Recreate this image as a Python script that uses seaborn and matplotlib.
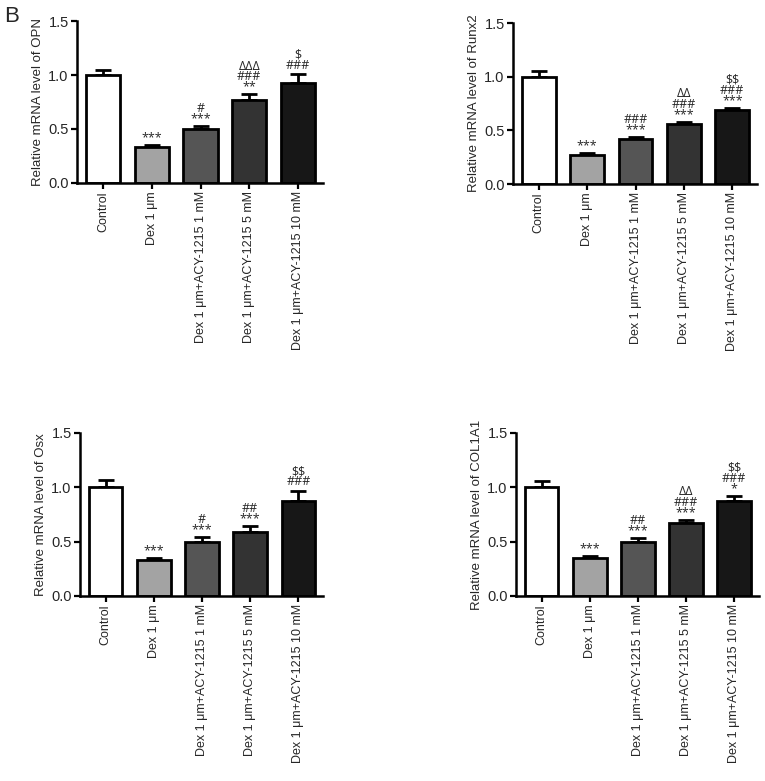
import matplotlib
matplotlib.use("Agg")
import matplotlib.pyplot as plt
import seaborn as sns
import pandas as pd
import numpy as np

sns.set_theme(style="ticks")
plt.rcParams['font.family'] = ['Liberation Sans', 'DejaVu Sans']

groups = ["Control", "Dex 1 μm", "Dex 1 μm+ACY-1215 1 mM",
          "Dex 1 μm+ACY-1215 5 mM", "Dex 1 μm+ACY-1215 10 mM"]
colors = ["#ffffff", "#a3a3a3", "#555555", "#333333", "#171717"]

opn_mean = [1.00, 0.33, 0.50, 0.77, 0.93]
opn_err = [0.05, 0.02, 0.03, 0.05, 0.08]
opn_ann = ["", "***", "#\n***", "ΔΔΔ\n###\n**", "$\n###"]

runx2_mean = [1.00, 0.27, 0.42, 0.56, 0.69]
runx2_err = [0.05, 0.015, 0.02, 0.02, 0.015]
runx2_ann = ["", "***", "###\n***", "ΔΔ\n###\n***", "$$\n###\n***"]

osx_mean = [1.00, 0.33, 0.50, 0.59, 0.87]
osx_err = [0.07, 0.02, 0.04, 0.05, 0.10]
osx_ann = ["", "***", "#\n***", "##\n***", "$$\n###"]

col_mean = [1.00, 0.35, 0.50, 0.67, 0.87]
col_err = [0.06, 0.02, 0.03, 0.03, 0.05]
col_ann = ["", "***", "##\n***", "ΔΔ\n###\n***", "$$\n###\n*"]

panels = [
    ("OPN", opn_mean, opn_err, opn_ann, [0.1007, 0.7657, 0.3216, 0.2074]),
    ("Runx2", runx2_mean, runx2_err, runx2_ann, [0.6706, 0.7644, 0.3190, 0.2061]),
    ("Osx", osx_mean, osx_err, osx_ann, [0.1046, 0.2369, 0.3176, 0.2087]),
    ("COL1A1", col_mean, col_err, col_ann, [0.6745, 0.2369, 0.3176, 0.2087]),
]

fig = plt.figure(figsize=(7.65, 7.81), dpi=100)

for gene, mean, err, ann, pos in panels:
    ax = fig.add_axes(pos)
    df = pd.DataFrame({"group": groups, "value": mean})
    sns.barplot(data=df, x="group", y="value", hue="group", palette=colors,
                order=groups, hue_order=groups, legend=False, width=0.7,
                edgecolor="black", linewidth=2, errorbar=None, ax=ax, zorder=2)
    x = np.arange(len(groups))
    ax.errorbar(x, mean, yerr=[np.zeros(len(err)), err], fmt="none",
                ecolor="black", elinewidth=2, capsize=6, capthick=2, zorder=1)
    for xi, m, e, a in zip(x, mean, err, ann):
        if not a:
            continue
        bottom_star = a.split("\n")[-1].startswith("*")
        ax.annotate(a, xy=(xi, m + e), xytext=(0, 0.6 if bottom_star else 1.5),
                    textcoords="offset points", ha="center", va="bottom",
                    multialignment="center", linespacing=0.74,
                    fontsize=9, annotation_clip=False, parse_math=False,
                    family=['Open Sans', 'DejaVu Sans'])
    ax.set_ylim(0, 1.5)
    ax.set_xlim(-0.53, 4.51)
    ax.set_yticks([0.0, 0.5, 1.0, 1.5])
    ax.set_yticklabels(["0.0", "0.5", "1.0", "1.5"], fontsize=10.5)
    ax.set_xticks(x)
    ax.set_xticklabels(groups, rotation=90, fontsize=9)
    ax.set_xlabel("")
    ax.set_ylabel(f"Relative mRNA level of {gene}", fontsize=9.5, labelpad=3)
    for s in ["top", "right"]:
        ax.spines[s].set_visible(False)
    for s in ["left", "bottom"]:
        ax.spines[s].set_linewidth(1.8)
        ax.spines[s].set_color("black")
    ax.tick_params(axis="both", width=1.6, length=4, color="black", pad=2)

fig.text(0.005, 0.992, "B", fontsize=16, va="top", ha="left")
fig.savefig("out.png", dpi=100, facecolor="white")
